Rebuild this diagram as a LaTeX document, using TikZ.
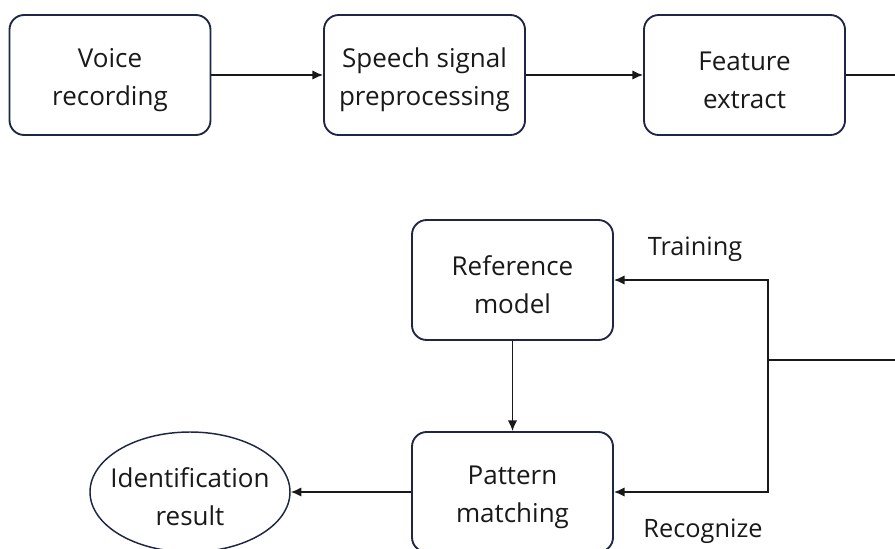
\documentclass[tikz,border=0pt]{standalone}
\usepackage{fontspec}
\setmainfont{Open Sans}
\usepackage{tikz}
\usepackage{xcolor}
\usetikzlibrary{positioning, arrows.meta, shapes.geometric}

\definecolor{boxline}{RGB}{30,38,70}
\definecolor{arrowline}{RGB}{25,25,25}

% strut to push the two text lines a bit lower in their shapes
\newcommand{\topstrut}{\rule{0pt}{22pt}}

\tikzset{
  stagebox/.style={draw=boxline, line width=1.4pt, rounded corners=11pt, fill=white,
    minimum width=150.75pt, minimum height=90pt, align=center,
    font=\fontsize{19.5}{29}\selectfont, text=black!90},
  resultbox/.style={draw=boxline, line width=1.1pt, ellipse, fill=white,
    minimum width=150pt, minimum height=90pt, inner xsep=-8pt, inner ysep=0pt, align=center,
    font=\fontsize{19.5}{29}\selectfont, text=black!90},
  flowline/.style={draw=arrowline, line width=1.1pt, -{Latex[length=8pt,width=7pt]}},
  plainline/.style={draw=arrowline, line width=1.1pt},
  tag/.style={font=\fontsize{19}{24}\selectfont, text=black!90}
}

\begin{document}
\begin{tikzpicture}[x=0.75pt,y=0.75pt,yscale=-1,xscale=1]
\useasboundingbox (0,0) rectangle (895,549);

%Top row
\node [stagebox] (voice) at (110,75) {\topstrut Voice\\recording};
\node [stagebox] (prep) at (424.5,75) {\topstrut Speech signal\\preprocessing};
\node [stagebox] (feat) at (744.5,75) {\topstrut Feature\\extract};

%Lower part
\node [stagebox] (refmodel) at (512.5,280) {\topstrut Reference\\model};
\node [stagebox] (match) at (512.5,492) {\topstrut Pattern\\matching};
\node [resultbox] (result) at (190,492) {\topstrut Identification\\result};

%Free ends at the right border
\coordinate (outR) at (900,75);
\coordinate (inR) at (900,360);
\coordinate (split) at (768,360);

%Labels
\node [tag] (train) at (695,249) {Training};
\node [tag] (recog) at (703,531) {Recognize};

%Connectors
\draw [flowline] (voice) -- (prep);
\draw [flowline] (prep) -- (feat);
\draw [plainline] (feat) -- (outR);
\draw [plainline] (inR) -- (split);
\draw [flowline] (split) |- (refmodel.east);
\draw [flowline] (split) |- (match.east);
\draw [flowline] (refmodel) -- (match);
\draw [flowline] (match) -- (result);

\end{tikzpicture}
\end{document}
